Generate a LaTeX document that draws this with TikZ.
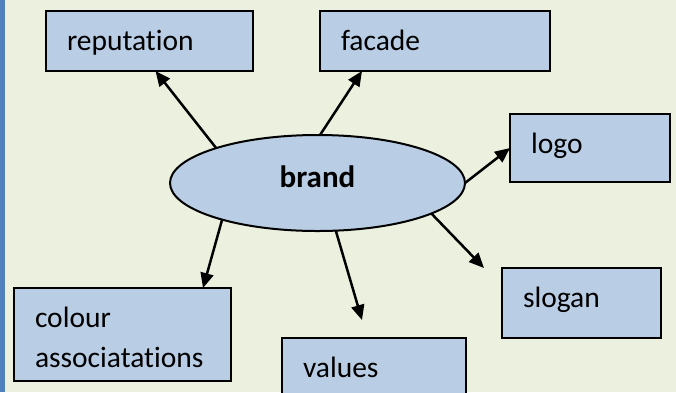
\documentclass[tikz,border=0pt]{standalone}
\usepackage{fontspec}
\setmainfont{Carlito}[Ligatures=NoCommon]
\usetikzlibrary{arrows.meta,shapes}
\definecolor{paper}{HTML}{EBF1DE}
\definecolor{boxblue}{HTML}{B9CDE5}
\definecolor{edgeblue}{HTML}{4F81BD}

\begin{document}
\begin{tikzpicture}[x=1pt,y=-1pt,
    box/.style={draw,line width=2pt,fill=boxblue,anchor=north west,inner xsep=21pt,inner ysep=0pt,
        outer sep=0pt,align=left,text height=39pt,font=\fontsize{29.5}{40}\selectfont},
    link/.style={line width=2.5pt,-{Triangle[length=15pt,width=13pt]}}]
    \clip (0,0) rectangle (676,392);
    \fill[paper] (0,0) rectangle (676,392);
    \fill[edgeblue] (0,0) rectangle (5,392);
    % the centre
    \node[ellipse,draw,line width=2pt,fill=boxblue,minimum width=295pt,minimum height=96pt,inner sep=0pt,
        outer sep=0pt,text height=21pt,text depth=13pt,font=\fontsize{31}{37}\selectfont\bfseries] (brand) at (317.5,183) {brand};
    % the boxes round it
    \node[box,text width=165pt,text depth=21pt] (rep) at (46,11) {reputation};
    \node[box,text width=188pt,text depth=21pt] (facade) at (320,11) {facade};
    \node[box,text width=118pt,text depth=29pt] (logo) at (510,114) {logo};
    \node[box,text width=117pt,text depth=31pt] (slogan) at (502,268) {slogan};
    \node[box,text width=142pt,text depth=23pt] (values) at (282,338) {values};
    \node[box,text width=175pt,text depth=54pt] (colour) at (14,288) {colour\\associatations};
    % arrows
    \draw[link] (brand.161) -- ([xshift=6pt]rep.south);
    \draw[link] (brand.87) -- ([xshift=42pt]facade.south west);
    \draw[link] (brand.0) -- (logo.west);
    \draw[link] (brand.345) -- ([xshift=-18pt]slogan.north west);
    \draw[link] (brand.291) -- ([shift={(80pt,18pt)}]values.north west);
    \draw[link] (brand.201) -- ([xshift=189pt]colour.north west);
\end{tikzpicture}
\end{document}
